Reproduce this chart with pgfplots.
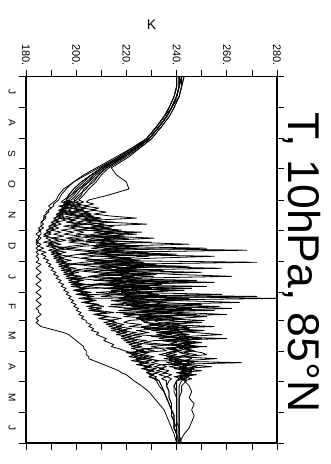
\documentclass[border=0pt]{standalone}
\usepackage{pgfplots}
\pgfplotsset{compat=1.18}
\usepackage{pgfplotstable}
\usepackage{fontspec}
\setmainfont{Liberation Sans}

% 10 hPa temperature (K) at 85N, one column per winter; d = days since 1 July
\pgfplotstableread{
d s1 s2 s3 s4 s5 s6 s7 s8 s9 s10 s11 s12
0 241 242 240 243 241 242 240 241 243 242 242 240
10 241 242 240 242 241 241 240 241 242 241 241 240
20 240 241 239 241 240 240 239 240 241 240 240 239
31 238 239 237 238 238 238 237 238 239 238 238 237
40 236 237 235 236 236 235 235 236 237 236 236 235
50 233 234 232 233 233 232 232 233 234 233 233 232
62 229 230 228 229 229 228 228 229 230 229 229 228
70 224 226 223 225 225 224 223 225 226 224 225 223
80 218 220 217 219 219 218 216 219 221 218 219 217
91 211 213 209 212 210 211 208 212 214 210 212 210
98 207 210 204 209 206 207 203 209 216 206 208 206
105 204 208 199 206 203 205 199 207 220 202 205 202
112 201 205 196 204 200 201 195 203 221 199 202 199
118 199 203 194 201 198 198 193 202 213 197 200 197
123 197 201 193 199 196 195 192 200 205 196 198 196
125 196 203 192 201 197 194 191 199 204 198 195 199
127 198 200 191 198 195 197 190 202 207 195 197 196
129 195 205 191 202 199 193 189 198 203 197 194 200
131 197 202 190 199 196 196 190 204 209 194 196 197
133 194 208 189 203 198 194 189 199 206 196 193 203
135 196 203 189 200 195 199 188 205 212 193 195 198
137 193 206 188 197 200 195 188 201 207 195 192 206
139 195 204 188 204 197 202 187 207 214 192 194 200
141 193 210 187 199 194 196 188 203 224 194 191 209
143 196 205 187 206 199 200 187 209 208 191 193 202
145 192 212 186 200 196 197 186 204 211 193 190 215
147 194 228 186 205 201 203 187 211 209 190 192 204
149 191 207 186 198 195 198 186 206 215 192 189 211
151 193 214 185 207 200 205 187 213 210 189 191 205
153 190 206 186 199 194 201 185 207 217 191 188 218
155 194 214 185 203 199 226 186 212 211 188 190 207
157 191 209 184 200 195 207 186 224 219 190 187 213
159 195 219 185 211 202 203 185 210 213 187 189 206
161 190 207 185 201 196 214 186 217 231 191 188 221
163 193 204 184 197 203 206 185 208 214 196 190 209
165 189 230 185 209 197 204 184 222 209 192 187 216
167 194 212 184 215 205 219 186 245 216 189 191 208
169 190 208 185 203 198 207 185 213 225 191 188 224
171 195 252 184 197 193 212 187 206 218 198 192 211
173 191 212 185 204 199 268 185 214 210 193 189 219
175 196 206 184 219 208 214 188 229 219 190 193 210
177 192 213 185 240 201 201 186 216 207 194 190 236
179 197 229 184 207 196 209 188 211 255 191 194 212
181 193 215 185 202 202 222 187 217 230 195 191 220
183 198 204 185 208 211 218 189 225 214 192 195 214
185 194 272 184 223 203 207 188 209 218 196 192 227
187 199 217 186 200 197 213 190 227 232 193 197 213
189 195 211 185 206 245 209 189 220 212 197 193 241
191 200 219 184 214 205 222 191 258 224 194 198 216
193 196 235 185 203 199 215 190 212 209 198 194 224
195 201 214 186 212 207 250 192 221 226 195 199 215
197 197 209 185 228 216 211 191 216 238 199 195 232
199 202 223 184 205 208 205 193 231 262 196 201 218
201 198 216 185 210 200 220 192 214 221 200 196 226
203 203 226 186 248 209 212 194 207 215 197 202 220
205 199 255 185 215 220 226 193 226 237 201 197 249
207 204 212 184 206 211 209 195 234 219 198 203 219
209 200 221 185 219 203 217 194 215 228 252 198 229
211 205 237 186 211 212 230 196 246 213 202 204 222
213 201 218 185 224 224 214 195 222 243 199 199 238
215 206 230 184 213 208 221 197 218 225 203 205 224
217 202 214 185 221 216 258 196 232 219 200 200 233
219 207 226 186 230 210 219 198 224 236 272 206 226
221 203 241 185 280 227 226 197 217 222 204 201 245
223 208 219 184 218 214 216 199 241 239 206 207 228
225 204 233 185 225 219 229 198 226 265 203 202 236
227 209 250 186 214 231 222 200 220 231 207 209 230
229 205 222 185 236 213 233 199 238 224 211 204 257
231 210 229 184 220 222 219 201 262 246 205 210 231
233 206 217 185 243 255 227 200 229 228 209 205 240
235 212 238 185 226 216 241 202 224 235 215 212 233
237 207 224 186 219 224 260 201 246 226 208 207 248
239 213 231 185 238 219 225 203 228 252 212 213 235
241 209 242 184 224 231 234 202 233 240 218 209 242
243 214 226 185 233 221 229 204 251 231 213 215 237
245 216 228 184 250 219 227 204 236 233 215 211 246
247 212 236 185 229 226 234 206 229 241 219 216 239
249 218 255 186 235 221 226 205 241 236 216 213 244
251 214 231 189 227 233 238 207 233 245 222 218 238
253 220 240 192 241 224 230 206 248 238 217 214 251
255 216 233 195 232 229 241 209 235 247 224 220 240
257 221 244 197 238 223 232 208 242 258 220 216 245
259 218 236 198 230 236 237 210 237 243 226 222 241
261 223 242 199 243 260 233 212 245 250 221 218 248
263 219 235 200 234 231 244 211 238 242 228 224 242
265 224 246 201 240 227 250 213 244 248 223 220 246
267 221 238 202 236 237 239 215 240 244 230 226 243
269 226 243 203 244 230 241 214 247 249 252 222 249
271 222 237 203 238 234 236 217 241 243 227 228 244
273 227 241 204 242 236 240 219 245 246 231 224 247
275 220 237 204 239 226 236 222 250 241 222 229 243
277 224 233 204 236 222 240 224 252 245 227 226 248
279 221 239 205 241 229 236 226 243 240 223 231 244
281 226 235 205 237 224 241 229 239 256 228 228 246
283 222 241 207 243 230 237 232 245 243 224 233 243
285 227 236 209 239 225 242 266 240 247 229 230 245
287 224 242 211 245 231 238 234 246 242 225 234 242
289 229 237 213 254 227 243 236 241 248 230 231 244
291 226 243 215 241 232 239 233 247 243 227 235 241
293 230 250 217 246 228 244 237 242 246 231 232 243
295 228 240 218 242 233 240 235 246 242 228 236 241
297 231 244 220 245 229 248 238 243 247 231 233 242
299 229 239 221 241 232 241 236 245 243 229 236 240
301 231 242 222 244 231 243 238 242 246 232 234 241
303 232 240 223 242 233 240 237 244 243 233 236 240
308 233 239 226 241 234 239 236 242 245 234 236 240
314 235 240 229 241 235 239 237 242 246 235 237 240
320 236 240 231 241 236 240 237 241 245 236 237 240
326 237 240 233 241 237 240 238 241 247 237 238 240
332 238 240 235 241 238 240 238 241 246 238 238 240
338 238 240 236 241 238 240 239 241 247 239 239 240
344 239 240 237 241 239 240 239 241 246 239 239 240
350 239 241 238 241 239 240 239 241 245 240 239 240
356 240 241 239 241 240 240 240 241 243 240 240 240
365 240 241 240 242 240 241 240 241 241 240 240 240
}\Tdata

\begin{document}
\begin{tikzpicture}[x=1pt,y=1pt]
\path[use as bounding box] (0,0) rectangle (331,-464);
\begin{axis}[
  at={(26pt,-76.5pt)}, anchor=north west,
  scale only axis, width=251pt, height=366.5pt,
  xmin=180, xmax=280, ymin=-365, ymax=0,
  xtick={180,200,...,280}, minor xtick={190,210,...,270},
  xticklabels={180.,200.,220.,240.,260.,280.},
  xticklabel pos=upper, xtick pos=both,
  xticklabel style={rotate=-90, anchor=east, font=\fontsize{11}{11}\selectfont},
  ytick={-365,-335,-304,-274,-243,-215,-184,-153,-123,-92,-62,-31,0},
  y tick label as interval,
  yticklabels={J,M,A,M,F,J,D,N,O,S,A,J},
  ytick pos=both, yticklabel pos=left,
  yticklabel style={rotate=-90, anchor=north, font=\fontsize{10}{10}\selectfont},
  tick align=outside, major tick length=7pt, minor tick length=7pt,
  every tick/.style={black, line width=0.8pt},
  axis line style={line width=1.4pt},
  clip=true,
]
\pgfplotsinvokeforeach{1,...,12}{
  \addplot[black, line width=0.8pt, line join=round] table[x=s#1, y expr=-\thisrow{d}]{\Tdata};
}
\end{axis}
\node[font=\fontsize{14}{14}\selectfont] at (151.5,-25) {K};
\node[rotate=-90, anchor=base, font=\fontsize{44.5}{44.5}\selectfont] at (288,-262.5) {T, 10hPa, 85°N};
\end{tikzpicture}
\end{document}
